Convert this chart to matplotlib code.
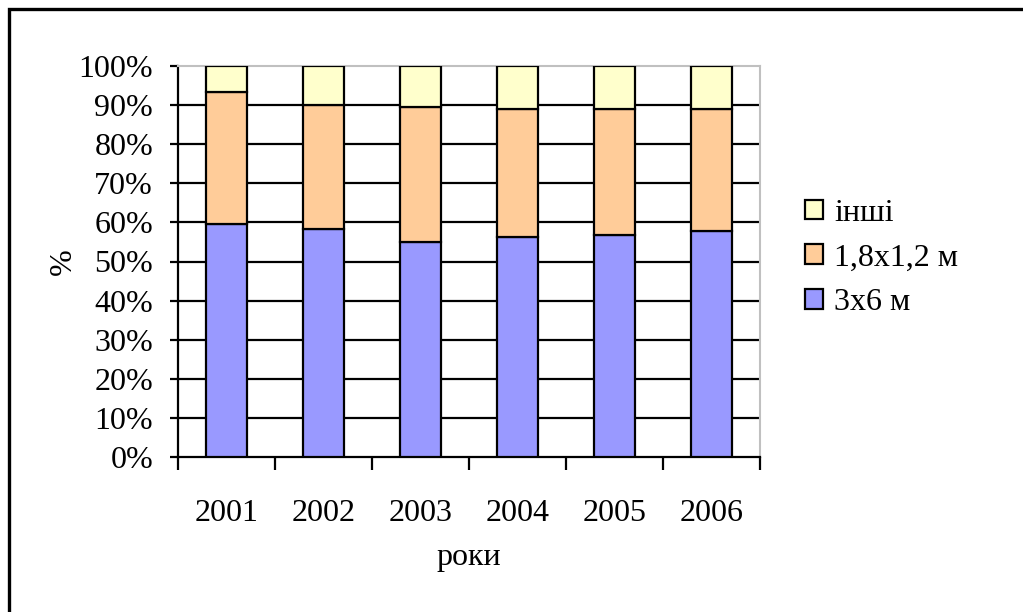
import matplotlib
matplotlib.use("Agg")
import matplotlib.pyplot as plt
import numpy as np
from matplotlib.patches import Rectangle

years = ["2001", "2002", "2003", "2004", "2005", "2006"]
s3x6 = [59.6, 58.4, 55.1, 56.3, 56.7, 57.9]
s18x12 = [33.7, 31.6, 34.4, 32.6, 32.2, 31.0]
others = [6.7, 10.0, 10.5, 11.1, 11.1, 11.1]
series_labels = ["3x6 м", "1,8x1,2 м", "інші"]
colors = ["#9999FF", "#FFCC99", "#FFFFCC"]
yticks = list(range(0, 101, 10))
ytick_labels = [f"{v}%" for v in yticks]

plt.rcParams['font.family'] = ['Liberation Serif', 'DejaVu Serif']

fig = plt.figure(figsize=(10.23, 6.12), dpi=100)
ax = fig.add_axes([178/1023, 1-457/612, (760-178)/1023, (457-66)/612])

x = np.arange(len(years))
data = [s3x6, s18x12, others]
bottom = np.zeros(len(years))
handles = []
for vals, lab, col in zip(data, series_labels, colors):
    b = ax.bar(x, vals, width=0.42, bottom=bottom, color=col, edgecolor='black',
               linewidth=1.6, label=lab, zorder=3)
    handles.append(b)
    bottom += np.array(vals)

for v in yticks[1:-1]:
    ax.axhline(v, color='black', linewidth=1.6, zorder=1)

ax.set_xlim(-0.5, len(years) - 0.5)
ax.set_ylim(0, 100)
ax.set_yticks(yticks)
ax.set_yticklabels(ytick_labels, fontsize=23)
ax.tick_params(axis='y', length=6, width=1.6, pad=12, direction='out')

ax.set_xticks(np.arange(-0.5, len(years), 1.0))
ax.set_xticklabels([])
ax.tick_params(axis='x', which='major', length=9, width=1.6, direction='out')
ax.set_xticks(x, minor=True)
ax.set_xticklabels(years, minor=True, fontsize=23)
ax.tick_params(axis='x', which='minor', length=0, pad=30)

for s in ['left', 'bottom']:
    ax.spines[s].set_color('black')
    ax.spines[s].set_linewidth(1.6)
for s in ['top', 'right']:
    ax.spines[s].set_color('#C0C0C0')
    ax.spines[s].set_linewidth(1.5)

fig.text(63/1023, 1-262/612, "%", rotation=90, ha='center', va='center', fontsize=23)
fig.text(469/1023, 1-558/612, "роки", ha='center', va='center', fontsize=23)

leg = fig.legend(handles[::-1], series_labels[::-1], loc='center left',
                 bbox_to_anchor=(805/1023, 1-258/612), frameon=False, fontsize=23,
                 handlelength=0.56, handleheight=0.56, handletextpad=0.35,
                 labelspacing=0.5, borderpad=0, borderaxespad=0)

fig.patches.append(Rectangle((9/1023, -20/612), 1040/1023, (612+20-9)/612,
                             transform=fig.transFigure, fill=False,
                             edgecolor='black', linewidth=2.4))

fig.savefig("out.png", dpi=100)
